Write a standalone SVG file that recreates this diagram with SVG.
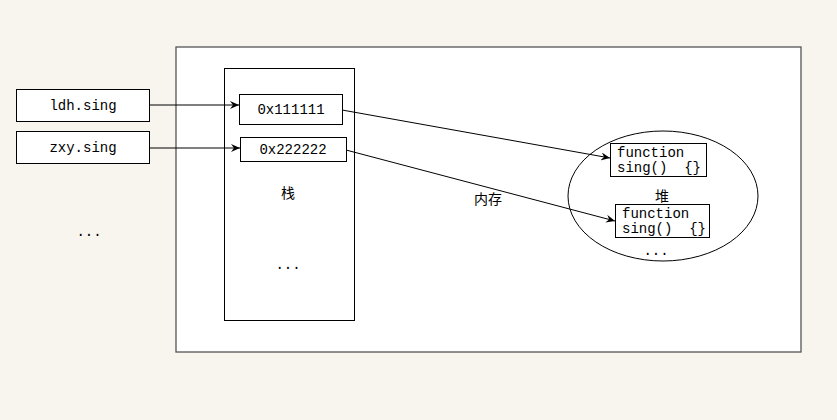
<svg xmlns="http://www.w3.org/2000/svg" width="837" height="420" viewBox="0 0 837 420">
<defs>
<marker id="ah" markerWidth="10" markerHeight="8" refX="9" refY="4" orient="auto" markerUnits="userSpaceOnUse">
<path d="M0,0 L9,4 L0,8 L3,4 Z" fill="#000"/>
</marker>
<style>
.box{fill:#fff;stroke:#000;stroke-width:1}
.frame{fill:#fff;stroke:#555;stroke-width:1.3}
.t{font-family:"Liberation Mono","Noto Sans CJK SC",monospace;font-size:14px;fill:#000}
.c{font-family:"Noto Sans CJK SC",sans-serif;font-size:14px;fill:#000}
.ln{stroke:#000;stroke-width:1;fill:none;marker-end:url(#ah)}
</style>
</defs>
<rect width="837" height="420" fill="#f8f5ef"/>
<g id="memory">
<rect class="frame" x="176" y="47" width="625" height="305"/>
<text class="c" x="488" y="204" text-anchor="middle">内存</text>
</g>
<g id="stack">
<rect class="box" x="224.5" y="68.5" width="130" height="252"/>
<text class="c" x="288" y="198" text-anchor="middle">栈</text>
<text class="t" x="288" y="269" text-anchor="middle">...</text>
</g>
<g id="heap">
<ellipse cx="663" cy="196" rx="95" ry="65" fill="#fff" stroke="#000" stroke-width="1"/>
<text class="c" x="662" y="201" text-anchor="middle">堆</text>
<text class="t" x="656" y="255" text-anchor="middle">...</text>
</g>
<g id="ldh">
<rect class="box" x="16.5" y="89.5" width="133" height="32"/>
<text class="t" x="83" y="110" text-anchor="middle">ldh.sing</text>
</g>
<g id="zxy">
<rect class="box" x="16.5" y="131.5" width="133" height="32"/>
<text class="t" x="83" y="152" text-anchor="middle">zxy.sing</text>
</g>
<g id="left-dots">
<text class="t" x="89" y="236" text-anchor="middle">...</text>
</g>
<g id="addr1">
<rect class="box" x="239.5" y="94.5" width="103" height="30"/>
<text class="t" x="291" y="114" text-anchor="middle">0x111111</text>
</g>
<g id="addr2">
<rect class="box" x="240.5" y="137.5" width="106" height="24"/>
<text class="t" x="293" y="154" text-anchor="middle">0x222222</text>
</g>
<g id="func1">
<rect class="box" x="610.5" y="143.5" width="96" height="33"/>
<text class="t" x="617" y="157">function</text>
<text class="t" x="617" y="172" xml:space="preserve">sing()  {}</text>
</g>
<g id="func2">
<rect class="box" x="615.5" y="204.5" width="94" height="33"/>
<text class="t" x="622" y="218">function</text>
<text class="t" x="622" y="233" xml:space="preserve">sing()  {}</text>
</g>
<g id="connectors">
<line class="ln" x1="149" y1="105" x2="239" y2="105"/>
<line class="ln" x1="149" y1="148" x2="240" y2="148"/>
<line class="ln" x1="342" y1="110" x2="610" y2="158"/>
<line class="ln" x1="346" y1="150" x2="615" y2="221"/>
</g>
</svg>
